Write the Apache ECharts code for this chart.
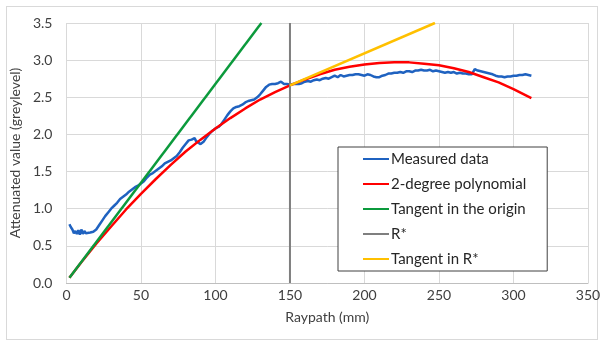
<!DOCTYPE html>
<html>
<head>
<meta charset="utf-8">
<script src="https://cdn.jsdelivr.net/npm/echarts@6/dist/echarts.min.js"></script>
<style>
  html, body { margin: 0; padding: 0; background: #fff; }
  #frame { position: absolute; left: 6px; top: 6px; width: 592px; height: 334px; border: 1px solid #d9d9d9; box-sizing: border-box; }
  #chart { position: absolute; left: 0; top: 0; width: 604px; height: 346px; }
</style>
</head>
<body>
<div id="frame"></div>
<div id="chart"></div>
<script>
// Axis ticks
const xTicks = [0, 50, 100, 150, 200, 250, 300, 350];
const yTicks = [0.0, 0.5, 1.0, 1.5, 2.0, 2.5, 3.0, 3.5];

// Measured attenuation along the raypath: [raypath (mm), greylevel]
const measured = [
  [2, 0.79], [3, 0.75], [4, 0.72], [5, 0.67], [6, 0.70], [7, 0.66], [8, 0.71], [9, 0.65],
  [10, 0.72], [11, 0.66], [12, 0.70], [13, 0.67], [14, 0.68], [16, 0.68], [18, 0.69],
  [20, 0.72], [22, 0.78], [24, 0.84], [26, 0.90], [28, 0.95], [30, 1.00], [32, 1.04],
  [34, 1.08], [36, 1.13], [38, 1.16], [40, 1.19], [42, 1.23], [44, 1.26], [46, 1.29],
  [48, 1.31], [50, 1.34], [52, 1.37], [54, 1.42], [56, 1.46], [58, 1.48], [60, 1.51],
  [62, 1.54], [64, 1.57], [66, 1.61], [68, 1.63], [70, 1.65], [72, 1.68], [74, 1.71],
  [76, 1.76], [78, 1.82], [80, 1.87], [82, 1.92], [83, 1.90], [84, 1.93], [85, 1.91],
  [86, 1.95], [87, 1.91], [88, 1.89], [90, 1.87], [92, 1.90], [94, 1.96], [96, 2.01],
  [98, 2.05], [100, 2.08], [102, 2.10], [104, 2.14], [106, 2.20], [108, 2.26], [110, 2.31],
  [112, 2.35], [114, 2.37], [116, 2.38], [118, 2.40], [120, 2.43], [122, 2.45], [124, 2.46],
  [126, 2.47], [128, 2.50], [130, 2.54], [132, 2.59], [134, 2.64], [136, 2.67], [138, 2.68],
  [140, 2.68], [142, 2.69], [144, 2.71], [146, 2.68], [148, 2.68], [150, 2.67], [152, 2.68],
  [154, 2.68], [156, 2.68], [158, 2.69], [160, 2.71], [162, 2.72], [164, 2.71], [166, 2.73],
  [168, 2.74], [170, 2.73], [172, 2.75], [174, 2.76], [176, 2.75], [178, 2.77], [180, 2.79],
  [182, 2.77], [184, 2.80], [186, 2.78], [188, 2.79], [190, 2.80], [192, 2.80], [194, 2.81],
  [196, 2.81], [198, 2.80], [200, 2.79], [202, 2.81], [204, 2.80], [206, 2.78], [208, 2.77],
  [210, 2.77], [212, 2.79], [214, 2.80], [216, 2.82], [218, 2.82], [220, 2.83], [222, 2.83],
  [224, 2.84], [226, 2.83], [228, 2.85], [230, 2.85], [232, 2.84], [234, 2.86], [236, 2.86],
  [238, 2.87], [240, 2.86], [242, 2.86], [244, 2.87], [246, 2.85], [248, 2.86], [250, 2.85],
  [252, 2.84], [254, 2.83], [256, 2.84], [258, 2.83], [260, 2.84], [262, 2.82], [264, 2.83],
  [266, 2.82], [268, 2.82], [270, 2.81], [272, 2.81], [273, 2.83], [274, 2.88], [276, 2.86],
  [278, 2.85], [280, 2.84], [282, 2.83], [284, 2.82], [286, 2.81], [288, 2.79], [290, 2.78],
  [292, 2.78], [294, 2.77], [296, 2.78], [298, 2.78], [300, 2.79], [302, 2.79], [304, 2.80],
  [306, 2.80], [308, 2.81], [310, 2.80], [312, 2.79]
];

// Second-degree polynomial fit, sampled along the raypath
const polynomial = [
  [2, 0.07], [10, 0.28], [20, 0.53], [30, 0.76], [40, 0.99], [50, 1.20], [60, 1.40],
  [70, 1.59], [80, 1.77], [90, 1.93], [100, 2.08], [110, 2.22], [120, 2.35], [130, 2.47],
  [140, 2.57], [150, 2.66], [160, 2.74], [170, 2.81], [180, 2.87], [190, 2.91], [200, 2.94],
  [210, 2.96], [220, 2.97], [230, 2.97], [240, 2.95], [250, 2.93], [260, 2.89], [270, 2.84],
  [280, 2.77], [290, 2.70], [300, 2.61], [310, 2.51], [312, 2.49]
];

// Tangent lines and the R* marker
const tangentOrigin = [[2, 0.07], [130.8, 3.5]];
const rStar = [[150, 0], [150, 3.5]];
const tangentRStar = [[150, 2.66], [247.3, 3.5]];

const legendNames = ['Measured data', '2-degree polynomial', 'Tangent in the origin', 'R*', 'Tangent in R*'];

const FONT = 'Lato, "Liberation Sans", sans-serif';

const chart = echarts.init(document.getElementById('chart'), null, { renderer: 'canvas' });

function line(name, data, color, width) {
  return {
    name, type: 'line', data, showSymbol: false, symbol: 'none',
    lineStyle: { color, width }, itemStyle: { color },
    animation: false, smooth: false
  };
}

chart.setOption({
  animation: false,
  backgroundColor: 'transparent',
  grid: { left: 64, right: 16, top: 23, bottom: 63 },
  xAxis: {
    type: 'value', min: xTicks[0], max: xTicks[xTicks.length - 1], interval: 50,
    name: 'Raypath (mm)', nameLocation: 'middle', nameGap: 27,
    nameTextStyle: { color: '#404040', fontSize: 14, fontFamily: FONT },
    axisLine: { show: true, lineStyle: { color: '#bfbfbf', width: 1 } },
    axisTick: { show: false },
    axisLabel: { color: '#404040', fontSize: 14, fontFamily: FONT, margin: 5 },
    splitLine: { show: true, lineStyle: { color: '#d9d9d9', width: 1 } }
  },
  yAxis: {
    type: 'value', min: yTicks[0], max: yTicks[yTicks.length - 1], interval: 0.5,
    name: 'Attenuated value (greylevel)', nameLocation: 'middle', nameGap: 36,
    nameTextStyle: { color: '#404040', fontSize: 14, fontFamily: FONT },
    axisLine: { show: false },
    axisTick: { show: false },
    axisLabel: { color: '#404040', fontSize: 14, fontFamily: FONT, margin: 14,
      formatter: v => v.toFixed(1) },
    splitLine: { show: true, lineStyle: { color: '#d9d9d9', width: 1 } }
  },
  legend: {
    orient: 'vertical', left: 338, top: 147,
    padding: [4, 21, 4, 25],
    icon: 'rect', itemWidth: 26, itemHeight: 2, itemGap: 9,
    backgroundColor: '#fff', borderColor: '#404040', borderWidth: 1,
    textStyle: { color: '#262626', fontSize: 15, lineHeight: 16, height: 16,
      fontFamily: FONT, padding: [0, 0, 0, -3] },
    data: legendNames
  },
  series: [
    line(legendNames[0], measured, '#1f62c0', 2.5),
    line(legendNames[1], polynomial, '#ff0000', 2.5),
    line(legendNames[2], tangentOrigin, '#0b9a3c', 2.5),
    line(legendNames[3], rStar, '#7f7f7f', 2),
    line(legendNames[4], tangentRStar, '#ffc000', 2.5)
  ]
});
</script>
</body>
</html>
